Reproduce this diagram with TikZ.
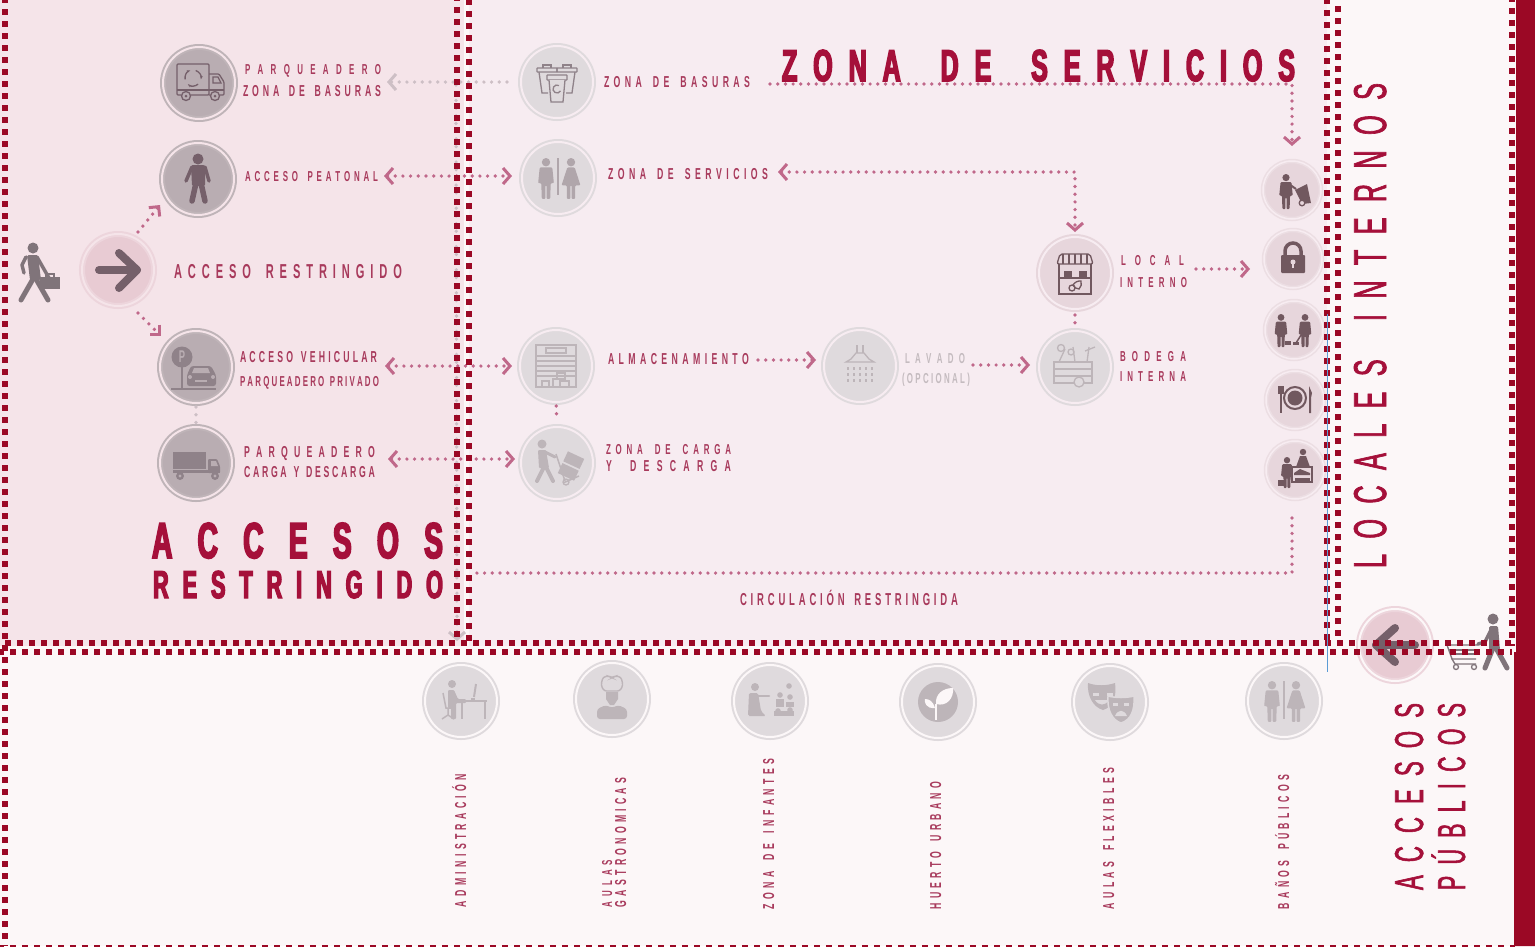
\documentclass[tikz,border=0pt]{standalone}
\usepackage{fontspec}
\usepackage{graphicx}
\usetikzlibrary{arrows.meta,calc}
\newfontfamily\condreg[FakeStretch=0.55]{Liberation Sans}
\newfontfamily\condtitle[FakeStretch=0.56,FakeBold=3.4]{Liberation Sans}
\newfontfamily\condthin[FakeStretch=0.55,FakeBold=1.4]{Liberation Sans}
\definecolor{bgLeft}{HTML}{F5E4E9}
\definecolor{bgMid}{HTML}{F7ECF1}
\definecolor{bgOut}{HTML}{FCF7F8}
\definecolor{wine}{HTML}{9B0825}
\definecolor{wineTxt}{HTML}{A5103A}
\definecolor{lblTxt}{HTML}{A83A5C}
\definecolor{greyTxt}{HTML}{C4BBBF}
\definecolor{linkC}{HTML}{C0688A}
\definecolor{faintC}{HTML}{CDBFC5}
\definecolor{darkC}{HTML}{B9ADB2}
\definecolor{lightC}{HTML}{DFDADD}
\definecolor{pinkC}{HTML}{E8CBD3}
\definecolor{rowC}{HTML}{E7D6DC}
\definecolor{icDark}{HTML}{75606A}
\definecolor{icMid}{HTML}{8F8289}
\definecolor{icWalk}{HTML}{80747A}
\definecolor{icSoft}{HTML}{B0A6AB}
\definecolor{icLight}{HTML}{BDB5B9}
\definecolor{icRow}{HTML}{71585F}
\definecolor{blueLine}{HTML}{5B9BD5}
\makeatletter
% spread capitals evenly over a box of given width and cap height
\newcommand\spreadtxt[3]{\pgfmathsetmacro\fsz{#2*1.44}\fontsize{\fsz pt}{\fsz pt}\selectfont
  \raisebox{0pt}[#2pt][0pt]{\hbox to #1pt{\@sprfirst#3\@sprend}}}
\def\@sprfirst#1{#1\@sprloop}
\def\@sprloop#1{\ifx#1\@sprend\else\ifx#1~\hskip 0pt plus 1.5fil\relax\else\hskip 0pt plus 1fil\relax#1\fi\expandafter\@sprloop\fi}
\makeatother
\newcommand\lh[7][lbl]{\pgfmathsetmacro\cxx{(#3+#5)/2}\pgfmathsetmacro\cyy{(#4+#6)/2}\pgfmathsetmacro\ww{#5-#3}\pgfmathsetmacro\hh{#6-#4}
  \node[#1] (#2) at (\cxx,\cyy) {\spreadtxt{\ww}{\hh}{#7}};}
\newcommand\lv[7][lbl]{\pgfmathsetmacro\cxx{(#3+#5)/2}\pgfmathsetmacro\cyy{(#4+#6)/2}\pgfmathsetmacro\ww{#6-#4}\pgfmathsetmacro\hh{#5-#3}
  \node[#1,rotate=90] (#2) at (\cxx,\cyy) {\spreadtxt{\ww}{\hh}{#7}};}
\newcommand\IC[4]{\begin{scope}[shift={(#1,#2)}]\colorlet{icn}{#3}#4\end{scope}}
\newcommand\fig[3]{\begin{scope}[shift={(#1,#2)},scale=#3]\fill[fl] (0,-16) circle (4);\fill[fl,rounded corners=1pt] (-6,-11) -- (6,-11) -- (7.5,4) -- (4.5,4) -- (4,19) -- (.6,19) -- (.6,6) -- (-.6,6) -- (-.6,19) -- (-4,19) -- (-4.5,4) -- (-7.5,4) -- cycle;\end{scope}}
\newcommand\figw[3]{\begin{scope}[shift={(#1,#2)},scale=#3]\fill[fl] (0,-16) circle (4);\fill[fl,rounded corners=1pt] (-3.5,-11) -- (3.5,-11) -- (9,6) -- (4,6) -- (4,19) -- (.6,19) -- (.6,6) -- (-.6,6) -- (-.6,19) -- (-4,19) -- (-4,6) -- (-9,6) -- cycle;\end{scope}}
\tikzset{
  x=1pt,y=-1pt,
  lbl/.style={inner sep=0pt,outer sep=0pt,font=\condreg\bfseries,text=lblTxt},
  lblgrey/.style={lbl,text=greyTxt},
  ttl/.style={inner sep=0pt,outer sep=0pt,font=\condtitle\bfseries,text=wineTxt},
  ttlthin/.style={inner sep=0pt,outer sep=0pt,font=\condthin,text=wineTxt},
  disc/.style={circle,inner sep=0pt,outer sep=0pt,minimum size=72pt,line width=2pt,double distance=2pt},
  cDark/.style={disc,fill=darkC,draw=darkC!92!white,double=bgLeft},
  cLightA/.style={disc,fill=lightC,draw=lightC,double=bgMid},
  cLightB/.style={disc,fill=lightC,draw=lightC,double=bgOut},
  cPink/.style={disc,fill=pinkC,draw=pinkC!80!white,double=bgLeft},
  cRow/.style={disc,minimum size=58pt,fill=rowC,draw=rowC!80!white,double=bgMid,line width=1.5pt,double distance=1.5pt},
  redDash/.style={line width=6pt,draw=wine,dash pattern=on 6pt off 6pt},
  link/.style={draw=linkC,line width=3.7pt,dash pattern=on 0pt off 7.7pt,line cap=round},
  faint/.style={link,draw=faintC},
  tipL/.style={-{Straight Barb[length=7pt,width=16pt,line width=3pt]}},
  tipB/.style={{Straight Barb[length=7pt,width=16pt,line width=3pt]}-{Straight Barb[length=7pt,width=16pt,line width=3pt]}},
  tipD/.style={-{Straight Barb[length=7pt,width=14pt,line width=3pt]}},
  ol/.style={draw=icn,line width=1.3pt,fill=none},
  fl/.style={fill=icn,draw=none},
  hv/.style={draw=icn,line width=5pt,line cap=round,line join=round,fill=none},
}
\begin{document}
\begin{tikzpicture}
\useasboundingbox (0,0) rectangle (1535,946);
\clip (0,0) rectangle (1535,946);
% grounds
\fill[bgOut] (0,0) rectangle (1535,946);
\fill[bgLeft] (0,0) rectangle (464,646);
\fill[bgMid] (469,0) rectangle (1327,646);
\fill[wine] (1516,0) -- (1535,0) -- (1535,946) -- (1514,946) -- (1514,652) -- (1516,652) -- cycle;
% named free ends
\coordinate (gTop) at (456,85);
\coordinate (gBot) at (457,641);
\coordinate (aCar) at (375,459);
\coordinate (tStart) at (770,84);
\coordinate (locOut) at (1196,269);
\coordinate (locIn) at (1250,269);
\coordinate (lavOut) at (973,365);
\coordinate (cStart) at (1292,518);
\coordinate (cEnd) at (470,573);
\draw[faint,tipL] (gTop) -- (gBot);
% discs
\node[cDark] (pBas) at (199,83) {};
\node[cDark] (pPea) at (198,179) {};
\node[cPink] (aRes) at (118,270) {};
\node[cDark] (pVeh) at (196,367) {};
\node[cDark] (pCar) at (196,463) {};
\node[cLightA] (sBas) at (557,82) {};
\node[cLightA] (sServ) at (558,178) {};
\node[cLightA] (sAlm) at (556,366) {};
\node[cLightA] (sCar) at (557,463) {};
\node[cLightA] (sLav) at (860,366) {};
\node[cPink,double=bgMid,fill=rowC,draw=rowC] (sLoc) at (1075,273) {};
\node[cLightA] (sBod) at (1075,367) {};
\node[cRow] (r1) at (1292,190) {};
\node[cRow] (r2) at (1293,259) {};
\node[cRow] (r3) at (1294,330) {};
\node[cRow] (r4) at (1295,400) {};
\node[cRow] (r5) at (1295,470) {};
\node[cLightB] (b1) at (461,701) {};
\node[cLightB] (b2) at (612,699) {};
\node[cLightB] (b3) at (770,701) {};
\node[cLightB] (b4) at (938,702) {};
\node[cLightB] (b5) at (1110,702) {};
\node[cLightB] (b6) at (1284,701) {};
\node[cPink,double=bgOut] (aPub) at (1395,645) {};
% labels
\lh{lPar}{245}{64}{381}{74}{PARQUEADERO}
\lh{lZon}{243}{85}{381}{96}{ZONA~DE~BASURAS}
\lh{lPea}{245}{171}{378}{181}{ACCESO~PEATONAL}
\lh{lRes}{174}{264}{402}{278}{ACCESO~RESTRINGIDO}
\lh{lVeh}{240}{351}{377}{362}{ACCESO~VEHICULAR}
\lh{lPri}{240}{376}{379}{386}{PARQUEADERO~PRIVADO}
\lh{lPar2}{244}{446}{375}{457}{PARQUEADERO}
\lh{lCar}{244}{466}{375}{477}{CARGA~Y~DESCARGA}
\lh[ttl]{tAcc}{152}{523}{443}{558}{ACCESOS}
\lh[ttl]{tRes}{153}{571}{443}{598}{RESTRINGIDO}
\lh[ttl]{tZon}{782}{50}{1295}{81}{ZONA~DE~SERVICIOS}
\lh{mBas}{604}{76}{750}{87}{ZONA~DE~BASURAS}
\lh{mSer}{608}{168}{768}{179}{ZONA~DE~SERVICIOS}
\lh{mAlm}{608}{353}{749}{364}{ALMACENAMIENTO}
\lh[lblgrey]{mLav}{905}{353}{965}{363}{LAVADO}
\lh[lblgrey]{mOpc}{902}{373}{970}{383}{(OPCIONAL)}
\lh{mCar}{606}{444}{731}{454}{ZONA~DE~CARGA}
\lh{mDes}{606}{460}{731}{471}{Y~DESCARGA}
\lh{mLoc}{1121}{255}{1184}{265}{LOCAL}
\lh{mInt}{1120}{277}{1187}{287}{INTERNO}
\lh{mBod}{1120}{351}{1186}{361}{BODEGA}
\lh{mIna}{1120}{371}{1186}{381}{INTERNA}
\lh{mCir}{740}{593}{958}{605}{CIRCULACIÓN~RESTRINGIDA}
\lv[ttlthin]{tLoc}{1354}{83}{1386}{568}{LOCALES~INTERNOS}
\lv[ttlthin]{tPub1}{1395}{703}{1423}{890}{ACCESOS}
\lv[ttlthin]{tPub2}{1438}{703}{1465}{890}{PÚBLICOS}
\lv{vAdm}{455}{774}{466}{907}{ADMINISTRACIÓN}
\lv{vAul}{602}{860}{612}{907}{AULAS}
\lv{vGas}{615}{778}{626}{907}{GASTRONOMICAS}
\lv{vInf}{763}{759}{774}{909}{ZONA~DE~INFANTES}
\lv{vHue}{930}{782}{941}{909}{HUERTO~URBANO}
\lv{vFle}{1103}{768}{1114}{909}{AULAS~FLEXIBLES}
\lv{vBan}{1278}{775}{1289}{909}{BAÑOS~PÚBLICOS}
% connectors
\draw[faint,tipL,shorten <=14pt,shorten >=6pt] (sBas.west) -- (lZon.east |- sBas.west);
\draw[link,tipB,shorten <=6pt,shorten >=10pt] (lPea.east) -- (lPea.east -| sServ.west);
\draw[link,tipB,shorten <=8pt,shorten >=8pt] (lVeh.east |- sAlm.west) -- (sAlm.west);
\draw[link,tipB,shorten <=13pt,shorten >=6pt] (aCar) -- (aCar -| sCar.west);
\draw[link,tipD] ($(aRes)+(20,-38)$) -- ($(pPea)+(-38,26)$);
\draw[link,tipD] ($(aRes)+(20,43)$) -- ($(pVeh)+(-35,-31)$);
\draw[link,tipL,shorten >=15pt] (tStart) -| (r1.north);
\draw[link,tipB,shorten <=10pt,shorten >=5pt] ([yshift=1.5pt]mSer.east) -| (sLoc.north);
\draw[link,tipL] (locOut) -- (locIn);
\draw[link,tipL,shorten <=9pt,shorten >=8pt] ([yshift=-1.5pt]mAlm.east) -- ([yshift=-1.5pt]mAlm.east -| sLav.west);
\draw[link,tipL,shorten >=9pt] (lavOut) -- (lavOut -| sBod.west);
\draw[link] (cStart) |- (cEnd);
\draw[link,shorten <=6pt,shorten >=3pt] (sLoc.south) -- (sBod.north);
\draw[link,shorten <=4pt,shorten >=6pt] (sAlm.south) -- (sCar.north);
\draw[faint,shorten <=4pt,shorten >=4pt] (pVeh.south) -- (pCar.north);
% ICONS
\IC{199}{83}{icDark}{
 \draw[ol,rounded corners=1pt] (-22,12) -- (-22,-19) -- (10,-19) -- (10,12) -- cycle;
 \draw[ol,rounded corners=1pt] (10,-9) -- (20,-9) -- (25,-1) -- (25,12) -- (10,12);
 \draw[ol] (-22,7) -- (25,7); \draw[ol] (14,-6) -- (19,-6) -- (22,0) -- (14,0) -- cycle;
 \fill[darkC] (-13,13) circle (5); \fill[darkC] (16,13) circle (5);
 \draw[ol] (-13,13) circle (4.5); \draw[ol] (16,13) circle (4.5);
 \fill[fl] (-13,13) circle (1.5); \fill[fl] (16,13) circle (1.5);
 \begin{scope}[shift={(-6,-5)}]
  \draw[ol,-{Stealth[length=3.5pt]}] (-70:8) arc (-70:10:8);
  \draw[ol,-{Stealth[length=3.5pt]}] (50:8) arc (50:130:8);
  \draw[ol,-{Stealth[length=3.5pt]}] (170:8) arc (170:250:8);
 \end{scope}
}
\IC{198}{179}{icDark}{
 \fill[fl] (0,-20) circle (5.5);
 \fill[fl,rounded corners=1.5pt] (-7,-14) -- (7,-14) -- (7,7) -- (-6,7) -- cycle;
 \draw[hv,line width=3.5pt] (-6,-12) -- (-12,2); \draw[hv,line width=3.5pt] (7,-12) -- (11,2);
 \draw[hv,line width=5.5pt] (-2,4) -- (-6,22); \draw[hv,line width=5.5pt] (3,4) -- (7,22);
}
\IC{118}{270}{icDark}{
 \draw[hv,line width=8pt] (-19,0) -- (19,0);
 \draw[hv,line width=8pt] (1,-17) -- (19,0) -- (1,18);
}
\IC{38}{270}{icWalk}{
 \fill[fl] (-5,-22) circle (5.5);
 \fill[fl,rounded corners=1.5pt] (-11,-15) -- (0,-15) -- (3,10) -- (-8,10) -- cycle;
 \draw[hv,line width=3.5pt] (-12,-13) -- (-16,-5) -- (-14,3);
 \draw[hv,line width=3.5pt] (-1,-13) -- (11,8);
 \draw[hv] (-5,9) -- (-17,30); \draw[hv] (-2,9) -- (10,30);
 \fill[fl] (2,7) rectangle (22,19);
 \draw[icn,line width=1.2pt] (8,7) -- (8,4) -- (16,4) -- (16,7);
}
\IC{196}{367}{icMid}{
 \fill[fl] (-14,-10) circle (10.5);
 \draw[icn,line width=2pt] (-14,0) -- (-14,22);
 \draw[icn,line width=2pt] (-25,22) -- (20,22);
 \fill[fl,rounded corners=2.5pt] (-9,19) -- (-9,8) -- (-5,-1) -- (15,-1) -- (20,8) -- (20,19) -- cycle;
 \fill[darkC] (-4,6) -- (-2,1) -- (12,1) -- (14,6) -- cycle;
 \fill[darkC] (-6,10) circle (2); \fill[darkC] (17,10) circle (2);
 \fill[darkC] (-1,13) rectangle (11,15);
}
\node[font=\condreg\bfseries\fontsize{17pt}{17pt}\selectfont,text=darkC,inner sep=0pt] (pMark) at (182,357) {P};
\IC{196}{463}{icMid}{
 \fill[fl] (-23,-11) rectangle (10,6);
 \fill[fl] (-23,7) rectangle (24,10);
 \fill[fl,rounded corners=1pt] (12,-4) -- (21,-4) -- (24,3) -- (24,10) -- (12,10) -- cycle;
 \fill[darkC] (15,-2) -- (20,-2) -- (22,3) -- (15,3) -- cycle;
 \fill[fl] (-16,13) circle (4); \fill[fl] (19,13) circle (4);
 \fill[darkC] (-16,13) circle (1.6); \fill[darkC] (19,13) circle (1.6);
}
\IC{557}{82}{icMid}{
 \draw[ol,rounded corners=.5pt] (-20,-14) rectangle (0,-10);
 \draw[ol,rounded corners=.5pt] (0,-14) rectangle (20,-10);
 \draw[ol] (-14,-14) -- (-14,-17) -- (-6,-17) -- (-6,-14) (6,-14) -- (6,-17) -- (14,-17) -- (14,-14);
 \draw[ol] (-18,-10) -- (-15,11) -- (-9,11); \draw[ol] (18,-10) -- (15,11) -- (9,11);
 \draw[ol,fill=lightC,rounded corners=.5pt] (-10,-7) rectangle (10,-2);
 \draw[ol,fill=lightC] (-8,-2) -- (-6,20) -- (6,20) -- (8,-2);
 \draw[ol] (0,7) ++(30:4) arc (30:300:4);
}
\IC{558}{178}{icSoft}{\fig{-12}{1}{1.05}\figw{13}{1}{1.05}\draw[icn,line width=1.3pt] (0,-20) -- (0,17);}
\IC{556}{366}{icLight}{
 \draw[ol] (-20,-21) rectangle (20,21);
 \draw[ol] (-10,-18) rectangle (10,-13);
 \foreach \yy in {-10,-5,0,5,10} {\draw[ol] (-20,\yy) -- (20,\yy);}
 \draw[ol] (-14,15) rectangle (-7,21); \draw[ol] (-3,13) rectangle (4,21); \draw[ol] (4,15) rectangle (13,21); \draw[ol] (1,7) rectangle (9,13);
}
\IC{557}{463}{icLight}{
 \fill[fl] (-15,-19) circle (4.5);
 \fill[fl,rounded corners=1pt] (-19,-13) -- (-11,-13) -- (-8,5) -- (-18,5) -- cycle;
 \draw[hv,line width=3pt] (-12,-11) -- (-2,-6);
 \draw[hv,line width=4pt] (-13,4) -- (-20,18); \draw[hv,line width=4pt] (-11,4) -- (-4,18);
 \begin{scope}[shift={(14,3)},rotate=-25]
  \fill[fl] (-9,-12) rectangle (9,-1); \fill[fl] (-9,1) rectangle (9,12);
 \end{scope}
 \draw[icn,line width=1.5pt] (-1,-9) -- (8,18);
 \draw[icn,line width=1.5pt] (6,20) -- (22,13);
 \draw[ol] (9,19) circle (3);
}
\IC{860}{366}{icLight}{
 \draw[ol] (-3,-21) -- (-3,-13) (3,-21) -- (3,-13);
 \draw[ol] (-4,-13) -- (4,-13) -- (9,-7) -- (14,-4) -- (-14,-4) -- (-9,-7) -- cycle;
 \foreach \yy in {1,7,13} \foreach \xx in {-12,-6,0,6,12} {\draw[icn,line width=1.4pt] (\xx,\yy) -- (\xx,\yy+3);}
}
\IC{1075}{273}{icRow}{
 \draw[ol,rounded corners=2pt] (-15,-19) -- (15,-19) -- (18,-9) -- (-18,-9) -- cycle;
 \foreach \xx in {-12,-6,0,6,12} {\draw[ol] (\xx,-19) -- (\xx,-9);}
 \draw[ol] (-16,-9) -- (-16,21) -- (16,21) -- (16,-9);
 \draw[ol] (-16,5) -- (16,5);
 \fill[fl] (-11,-2) rectangle (-3,4); \fill[fl] (4,-2) rectangle (12,4);
 \draw[ol] (-2,12) to[bend left] (6,8) to[bend left] (4,16) to[bend left] cycle;
 \draw[ol] (-3,15) circle (3);
}
\IC{1075}{367}{icLight}{
 \draw[ol] (-21,-5) rectangle (17,16);
 \draw[ol] (-21,2) -- (17,2) (-21,9) -- (17,9);
 \draw[ol] (-16,-5) -- (-10,-18); \draw[ol] (-14,-19) circle (3.5);
 \draw[ol] (0,-5) -- (-2,-20); \draw[ol] (-4,-15) circle (3); 
 \draw[ol] (12,-5) -- (14,-20); \draw[ol] (10,-16) -- (20,-20);
 \draw[ol,fill=lightC] (4,15) circle (5);
}
\IC{1292}{190}{icRow}{
 \fig{-6}{2}{.9}
 \fill[fl] (3,0) -- (15,-6) -- (19,13) -- (10,14) -- cycle;
 \draw[icn,line width=2pt] (-3,-6) -- (4,-1);
 \draw[icn,line width=1.3pt,fill=rowC] (10,13) circle (2.8);
}
\IC{1293}{259}{icRow}{
 \draw[icn,line width=3.5pt] (-8,-3) -- (-8,-8) arc (180:360:8) -- (8,-3);
 \fill[fl,rounded corners=1pt] (-12,-4) rectangle (12,14);
 \fill[rowC] (0,3) circle (2.5); \fill[rowC] (-1.2,3) rectangle (1.2,9);
}
\IC{1294}{330}{icRow}{
 \fig{-13}{1}{.85}\fig{11}{1}{.85}
 \draw[icn,line width=1.5pt] (9,2) -- (2,13); \fill[fl] (-1,12) rectangle (5,15);
 \fill[fl] (-9,11) rectangle (-3,15);
}
\IC{1295}{398}{icRow}{
 \draw[icn,line width=2pt] (0,0) circle (11);
 \fill[fl] (0,0) circle (7.5);
 \draw[icn,line width=2pt] (-14,-12) -- (-14,15);
 \fill[fl] (-17,-12) rectangle (-11,-4);
 \fill[fl] (14,15) -- (14,-12) -- (17,-5) -- (16,0) -- (16,15) -- cycle;
}
\IC{1295}{470}{icRow}{
 \fig{-8}{3}{.8}
 \fill[fl] (-17,10) rectangle (-11,16);
 \fill[fl] (8,-18) circle (3.2);
 \fill[fl] (5,-14) -- (11,-14) -- (15,-3) -- (1,-3) -- cycle;
 \draw[icn,line width=1.5pt,fill=rowC] (-3,-3) rectangle (17,12);
 \fill[fl] (-1,3) -- (5,-1) -- (15,3) -- (15,5) -- (-1,5) -- cycle;
 \fill[fl] (0,8) rectangle (15,10.5);
}
% bottom row
\IC{461}{701}{icLight}{
 \fill[fl] (-9,-17) circle (4);
 \fill[fl,rounded corners=1pt] (-13,-11) -- (-7,-11) -- (-3,-2) -- (5,-2) -- (5,2) -- (-5,2) -- (-5,18) -- (-10,18) -- (-10,7) -- (-13,7) -- cycle;
 \draw[icn,line width=1.5pt] (-18,-8) -- (-15,7) -- (-10,7);
 \draw[icn,line width=1.5pt] (-13,8) -- (-13,14) -- (-19,18) (-13,14) -- (-7,18);
 \draw[icn,line width=2pt] (-1,0) -- (26,0);
 \draw[icn,line width=2pt] (1,0) -- (1,18) (24,0) -- (24,18);
 \draw[icn,line width=2pt] (13,-4) -- (15,-17);
 \draw[icn,line width=1.5pt] (10,-2) -- (14,-2);
}
\IC{612}{699}{icLight}{
 \draw[ol,line width=1.4pt,rounded corners=2.5pt] (-8,-8) -- (-11,-14) -- (-9,-22) -- (-3,-23) -- (0,-21) -- (3,-23) -- (9,-22) -- (11,-14) -- (8,-8) -- cycle;
 \fill[fl] (-6,-7) -- (6,-7) -- (6,0) -- (2,6) -- (-2,6) -- (-6,0) -- cycle;
 \fill[fl,rounded corners=3pt] (-15,20) -- (-15,10) -- (-6,6) -- (0,9) -- (6,6) -- (15,10) -- (15,20) -- cycle;
}
\IC{770}{701}{icLight}{
 \fill[fl] (-15,-14) circle (4);
 \fill[fl,rounded corners=1.5pt] (-21,-8) -- (-12,-8) -- (-9,10) -- (-4,15) -- (-22,15) -- cycle;
 \draw[hv,line width=2.5pt] (-12,-5) -- (-1,-5);
 \foreach \px/\py in {10/-6,19/-15,20/-4,8/10,20/9} {\fill[fl] (\px,\py) circle (2.8);}
 \fill[fl] (6,-2) rectangle (14,6); \fill[fl] (16,1) rectangle (24,6);
 \fill[fl] (4,10) rectangle (24,15);
}
\IC{938}{702}{icLight}{
 \fill[fl] (0,0) circle (20);
 \fill[bgOut] (-2,2) .. controls (-3,-8) and (5,-14) .. (15,-14) .. controls (16,-4) and (9,5) .. (-2,2) -- cycle;
 \fill[bgOut] (-3,6) .. controls (-12,7) and (-14,0) .. (-13,-3) .. controls (-9,-3) and (-5,-1) .. (-3,6) -- cycle;
 \draw[bgOut,line width=1.5pt] (-2,2) -- (-2,18);
}
\IC{1110}{702}{icLight}{
 \fill[fl] (-22,-19) .. controls (-14,-16) and (-4,-16) .. (5,-19) .. controls (7,-6) and (3,5) .. (-7,8) .. controls (-17,5) and (-23,-6) .. (-22,-19) -- cycle;
 \fill[lightC] (-17,-9) rectangle (-11,-6); \fill[lightC] (-3,-9) rectangle (3,-6);
 \fill[lightC] (-15,-2) .. controls (-11,4) and (-5,4) .. (-1,-2) -- cycle;
 \fill[fl,draw=lightC,line width=1.5pt] (-2,-6) .. controls (6,-4) and (16,-4) .. (24,-6) .. controls (25,8) and (21,18) .. (11,21) .. controls (2,18) and (-3,8) .. (-2,-6) -- cycle;
 \fill[lightC] (3,1) rectangle (8,3.5); \fill[lightC] (14,1) rectangle (19,3.5);
 \fill[lightC] (5,14) .. controls (8,7) and (14,7) .. (17,14) -- cycle;
}
\IC{1284}{701}{icLight}{\fig{-12}{1}{1.05}\figw{12}{1}{1.05}\draw[icn,line width=1.3pt] (0,-20) -- (0,18);}
% shopper and arrow
\IC{1395}{645}{icDark}{
 \draw[hv,line width=8pt] (-19,0) -- (20,0);
 \draw[hv,line width=8pt] (0,-17) -- (-19,0) -- (0,17);
}
\IC{1493}{645}{icWalk}{
 \fill[fl] (0,-26) circle (5.5);
 \fill[fl,rounded corners=1.5pt] (-4,-19) -- (5,-19) -- (7,5) -- (-4,5) -- cycle;
 \draw[hv,line width=3.5pt] (-2,-15) -- (-8,-3) -- (-15,-1);
 \draw[hv] (0,3) -- (-8,23); \draw[hv] (3,3) -- (14,23);
 \draw[ol] (-15,0) -- (-46,0) -- (-41,14) -- (-17,14);
 \draw[ol] (-44,5) -- (-17,5) (-43,9) -- (-17,9);
 \draw[ol] (-41,14) -- (-38,19) -- (-17,19);
 \draw[ol] (-37,22) circle (2.5); \draw[ol] (-19,22) circle (2.5);
}
% red dashed frames
\draw[redDash] (5,-3) -- (5,946);
\draw[redDash] (457,-5) -- (457,641);
\draw[redDash] (469,-1) -- (469,641);
\draw[redDash] (1327,-2) -- (1327,643);
\draw[redDash] (1338,-6) -- (1338,641);
\draw[redDash] (1512,-4) -- (1512,646);
\draw[redDash] (5,643) -- (1512,643);
\draw[redDash] (-2,652) -- (1512,652);
\draw[redDash] (-2,947.5) -- (1515,947.5);
\coordinate (blueA) at (1327,314);
\coordinate (blueB) at (1327,672);
\draw[draw=blueLine,line width=1pt] (blueA) -- (blueB);
\end{tikzpicture}
\end{document}
